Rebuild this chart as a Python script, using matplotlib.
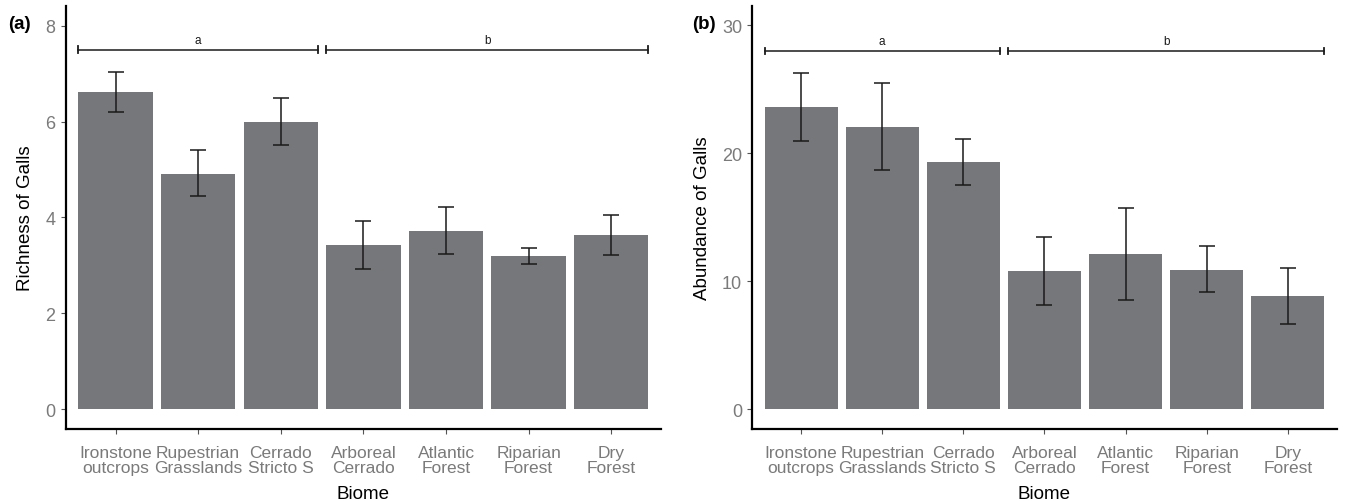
import numpy as np
import matplotlib
matplotlib.use("Agg")
import matplotlib.pyplot as plt

# datos
biomes = ["Ironstone\noutcrops", "Rupestrian\nGrasslands", "Cerrado\nStricto S",
          "Arboreal\nCerrado", "Atlantic\nForest", "Riparian\nForest", "Dry\nForest"]

richness = [6.61, 4.91, 5.99, 3.43, 3.72, 3.19, 3.64]
richness_lo = [6.19, 4.44, 5.50, 2.93, 3.23, 3.02, 3.22]
richness_hi = [7.03, 5.40, 6.49, 3.92, 4.21, 3.37, 4.04]

abundance = [23.62, 22.08, 19.32, 10.81, 12.16, 10.91, 8.88]
abundance_lo = [20.99, 18.67, 17.55, 8.18, 8.52, 9.17, 6.69]
abundance_hi = [26.28, 25.52, 21.09, 13.49, 15.76, 12.76, 11.07]

groups = ["a", "b"]
group_span = [(0, 2), (3, 6)]

bar_color = "#76777b"
tick_color = "#7a7a7a"
sans = ["Liberation Sans", "DejaVu Sans"]

fig = plt.figure(figsize=(13.46, 5.02), dpi=100)
ax_a = fig.add_axes([0.049, 0.143, 0.442, 0.843])
ax_b = fig.add_axes([0.559, 0.143, 0.434, 0.843])


def panel(ax, values, lo, hi, ylim, yticks, ylabel, bracket_y, letter_y, tip):
    x = np.arange(len(biomes))
    ax.bar(x, values, width=0.9, color=bar_color, zorder=2)
    vals = np.array(values)
    yerr = np.vstack([vals - np.array(lo), np.array(hi) - vals])
    ax.errorbar(x, vals, yerr=yerr, fmt="none", ecolor="#1a1a1a",
                elinewidth=1.1, capsize=5.8, capthick=1.1, zorder=3)

    # corchetes de grupos
    for g, (i0, i1) in zip(groups, group_span):
        x0, x1 = i0 - 0.45, i1 + 0.45
        ax.plot([x0, x1], [bracket_y, bracket_y], color="#1a1a1a", lw=1.1)
        ax.plot([x0, x0], [bracket_y - tip, bracket_y + tip], color="#1a1a1a", lw=1.3)
        ax.plot([x1, x1], [bracket_y - tip, bracket_y + tip], color="#1a1a1a", lw=1.3)
        ax.text((x0 + x1) / 2, letter_y, g, ha="center", va="bottom",
                fontsize=8.5, family=sans, color="#1a1a1a")

    ax.set_xlim(-0.6, len(biomes) - 0.4)
    ax.set_ylim(*ylim)
    ax.set_yticks(yticks)
    ax.set_xticks(x)
    ax.set_xticklabels(biomes, family=sans, fontsize=12.5, color=tick_color,
                       linespacing=1.0)
    for lab in ax.get_yticklabels():
        lab.set_family(sans)
        lab.set_fontsize(13)
        lab.set_color(tick_color)
    ax.tick_params(axis="both", length=3.5, width=0.8, color="#555555", pad=4)
    ax.tick_params(axis="x", pad=8)
    for s in ["top", "right"]:
        ax.spines[s].set_visible(False)
    ax.spines["left"].set_linewidth(1.6)
    ax.spines["bottom"].set_linewidth(1.6)
    ax.set_xlabel("Biome", fontsize=13.5, family=sans, labelpad=7)
    ax.set_ylabel(ylabel, fontsize=13.5, family=sans, labelpad=8)


panel(ax_a, richness, richness_lo, richness_hi, (-0.42, 8.41), [0, 2, 4, 6, 8],
      "Richness of Galls", 7.5, 7.58, 0.07)
panel(ax_b, abundance, abundance_lo, abundance_hi, (-1.56, 31.5), [0, 10, 20, 30],
      "Abundance of Galls", 28.0, 28.3, 0.26)

fig.text(0.006, 0.943, "(a)", fontsize=13.5, fontweight="bold", family=sans)
fig.text(0.514, 0.943, "(b)", fontsize=13.5, fontweight="bold", family=sans)

fig.savefig("out.png", dpi=100)
